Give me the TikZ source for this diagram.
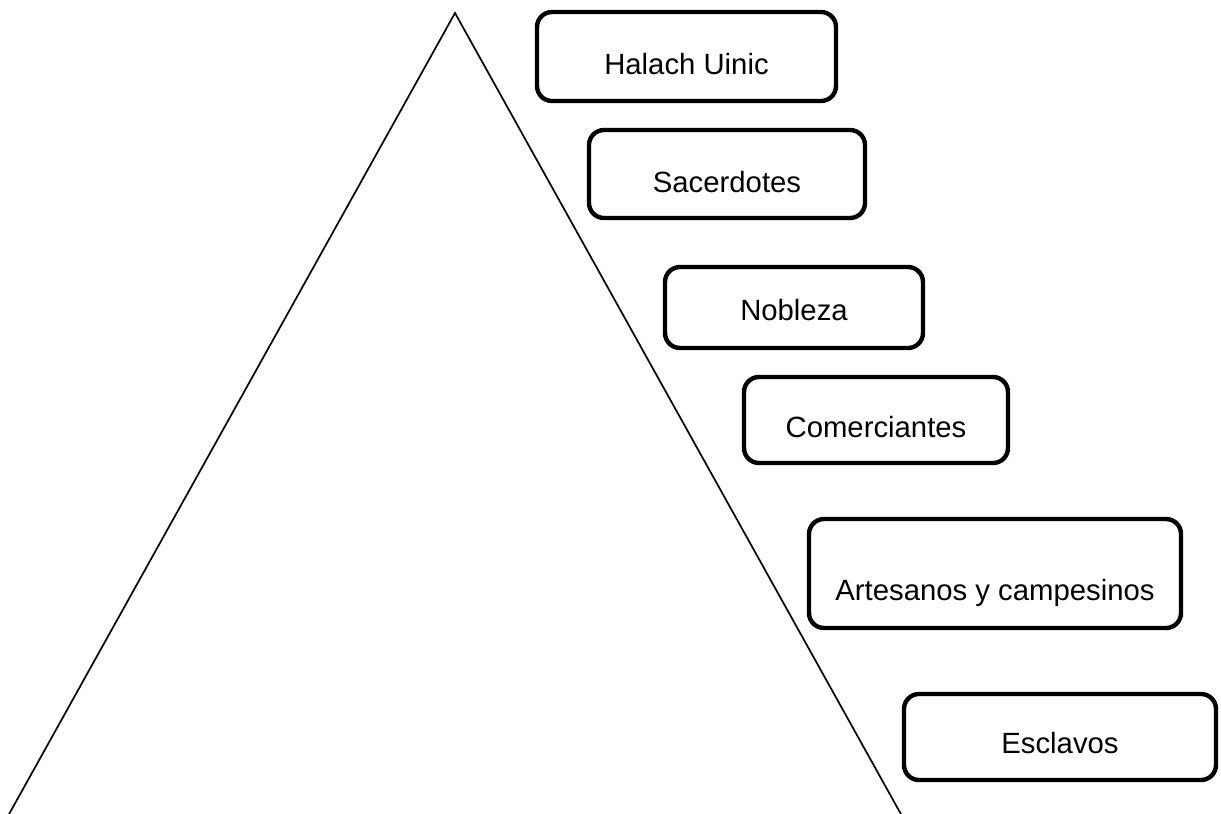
\documentclass[tikz,border=0pt]{standalone}
\usepackage{fontspec}
\setmainfont{Liberation Sans}
\usetikzlibrary{calc}
\tikzset{
  tierbox/.style={draw=black, line width=4.4pt, rounded corners=15pt, fill=white, inner sep=0pt},
  tiertext/.style={font=\fontsize{29.3}{35}\selectfont, text=black, inner sep=0pt},
  pyr/.style={draw=black, line width=1.7pt, line join=miter}
}
\begin{document}
\begin{tikzpicture}[x=1pt,y=-1pt]
\useasboundingbox[fill=white] (0,0) rectangle (1221,814);
% pyramid
\coordinate (apex) at (455,13);
\coordinate (bl) at (8,816);
\coordinate (br) at (902,816);
\draw[pyr] (bl) -- (apex) -- (br);
% boxes
\node[tierbox, minimum width=299pt, minimum height=89pt] (b1) at (686.5,56.5) {};
\node[tierbox, minimum width=276pt, minimum height=88pt] (b2) at (727,174) {};
\node[tierbox, minimum width=258pt, minimum height=81pt] (b3) at (794,307.5) {};
\node[tierbox, minimum width=264pt, minimum height=86pt] (b4) at (876,420) {};
\node[tierbox, minimum width=372pt, minimum height=109pt] (b5) at (995,573.5) {};
\node[tierbox, minimum width=312pt, minimum height=86pt] (b6) at (1060,737) {};
% labels
\node[tiertext] (t1) at ($(b1)+(0,8)$) {Halach Uinic};
\node[tiertext] (t2) at ($(b2)+(0,8)$) {Sacerdotes};
\node[tiertext] (t3) at ($(b3)+(0,3)$) {Nobleza};
\node[tiertext] (t4) at ($(b4)+(0,7)$) {Comerciantes};
\node[tiertext] (t5) at ($(b5)+(0,19)$) {Artesanos y campesinos};
\node[tiertext] (t6) at ($(b6)+(0,6)$) {Esclavos};
\end{tikzpicture}
\end{document}
